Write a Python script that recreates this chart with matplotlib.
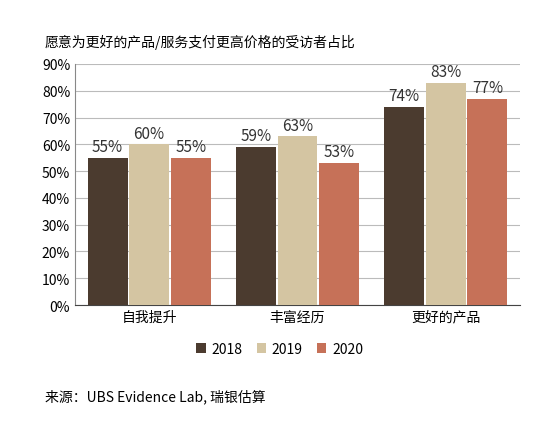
import matplotlib
matplotlib.use("Agg")
import matplotlib.pyplot as plt
import numpy as np

plt.rcParams['font.family'] = ['Noto Sans CJK SC', 'DejaVu Sans']

categories = ["自我提升", "丰富经历", "更好的产品"]
years = ["2018", "2019", "2020"]
values = {"2018": [55, 59, 74], "2019": [60, 63, 83], "2020": [55, 53, 77]}
colors = ["#4b3b2f", "#d4c5a2", "#c67158"]

fig = plt.figure(figsize=(5.5, 4.27), dpi=100)
ax = fig.add_axes([75/550, 1-306/427, 445/550, 241/427])
x = np.arange(len(categories))
w = 0.28
for i, (y, c) in enumerate(zip(years, colors)):
    xs = x + (i-1)*w
    ax.bar(xs, values[y], w*0.96, color=c, label=y, zorder=3)
    for xx, v in zip(xs, values[y]):
        ax.text(xx, v+1, f"{v}%", ha='center', va='bottom', fontsize=11, color='#333333')
ax.set_ylim(0, 90)
ax.set_yticks(range(0, 91, 10))
ax.set_yticklabels([f"{t}%" for t in range(0, 91, 10)], fontsize=10)
ax.set_xlim(-0.5, 2.5)
ax.set_xticks(x)
ax.set_xticklabels(categories, fontsize=10)
ax.grid(axis='y', color='#bbbbbb', linewidth=0.8, zorder=0)
for s in ['top', 'right']:
    ax.spines[s].set_visible(False)
ax.spines['left'].set_color('#888888')
ax.spines['bottom'].set_color('#444444')
ax.tick_params(length=0)
ax.legend(loc='upper center', bbox_to_anchor=(0.46, -0.1), ncol=3, frameon=False,
          fontsize=10, handlelength=0.7, handleheight=0.7, columnspacing=1.0, handletextpad=0.4)
fig.text(45/550, 1-42/427, "愿意为更好的产品/服务支付更高价格的受访者占比", fontsize=10, va='center')
fig.text(45/550, 1-397/427, "来源：UBS Evidence Lab, 瑞银估算", fontsize=10, va='center')
fig.savefig("out.png", dpi=100)
